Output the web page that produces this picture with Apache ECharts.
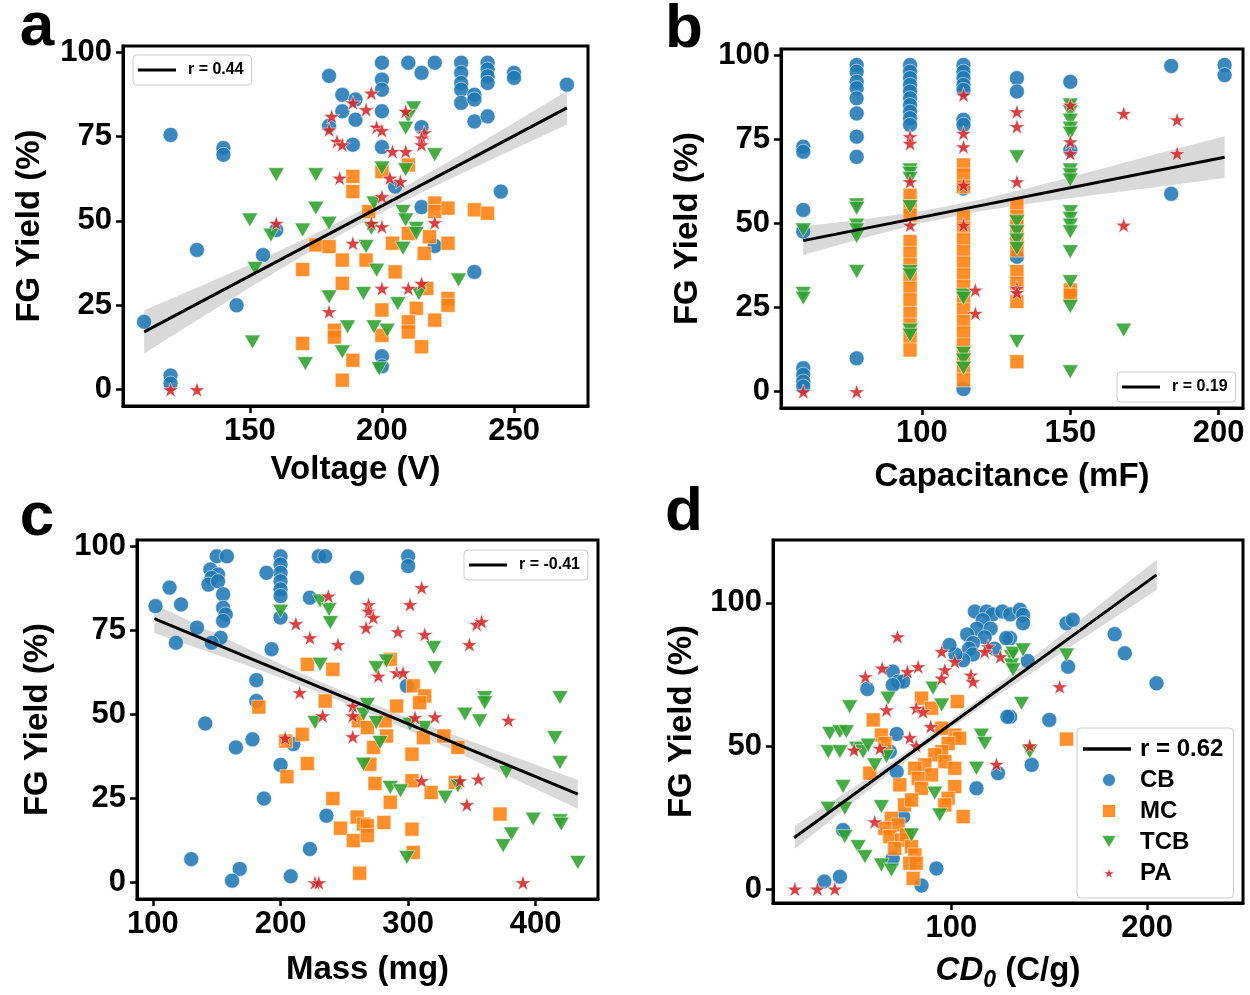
<!DOCTYPE html>
<html lang="en">
<head>
<meta charset="utf-8">
<title>FG yield</title>
<style>
  html, body { margin: 0; padding: 0; background: #fff; }
  #main { width: 1250px; height: 995px; }
</style>
</head>
<body>
<div id="main"></div>
<script src="https://cdn.jsdelivr.net/npm/echarts@6/dist/echarts.min.js"></script>
<script>
// ---------- data ----------
var groups = ['CB', 'MC', 'TCB', 'PA'];

// a: Voltage (V)
var aCB = [[180,93],[185,87.4],[185,82.5],[190,80],[190,86],[180,78.2],[189,72.6],[120,75.5],[140,71.6],[140,69.6],[130,41.4],[155,39.9],[160,47.3],[145,25],[110,20.1],[120,4.2],[120,1.8],[200,96.9],[210,96.9],[215,93.9],[220,96.9],[230,96.9],[230,93.9],[230,90.9],[230,88.9],[230,85],[235,87.4],[235,86],[235,79.5],[240,96.9],[240,94.9],[240,92.9],[240,90.9],[240,81],[250,93.9],[250,92.4],[270,90.4],[200,91.9],[200,88.9],[200,82.5],[200,71.9],[215,77.8],[205,60.2],[245,58.7],[215,54.1],[220,42.6],[235,34.9],[200,9.9],[200,6.9]];
var aMC = [[189,63.2],[189,58.7],[175,42.9],[180,42.4],[185,38.4],[170,35.6],[185,31.5],[182,17.6],[182,15.6],[170,13.7],[189,8.7],[185,2.8],[200,64.6],[210,66.6],[220,55.3],[220,52.8],[225,53.8],[235,53.3],[240,52.3],[195,52.8],[210,46.3],[204,43.4],[218,45.3],[225,43.4],[216,40.4],[194,38.4],[205,34.9],[217,30],[225,27],[225,25],[200,23.6],[213,24.1],[210,20.1],[210,17.1],[220,20.6],[200,16.1],[215,12.7]];
var aTCB = [[160,63.7],[175,63.7],[175,53.8],[150,50.3],[170,47.3],[180,49.3],[158,45.8],[152,35.9],[180,27.5],[187,18.6],[151,14.1],[185,11.2],[171,7.7],[212,83.5],[210,81],[209,77.5],[220,69.6],[200,65.7],[209,65.2],[197,55.3],[208,52.8],[209,50.3],[213,47.8],[213,46.3],[196,47.8],[194,42.4],[208,41.9],[198,35.4],[229,32.5],[193,28.5],[206,25.5],[214,28.5],[197,18.6],[202,17.6],[199,6.2]];
var aPA = [[189,85],[181,81],[180,77],[183,73.6],[185,72.6],[184,62.7],[160,49.3],[189,43.4],[180,23.1],[120,0],[130,0],[196,87.9],[194,83],[198,77.8],[200,76.8],[209,82.5],[216,76.1],[215,74.6],[215,72.6],[204,70.6],[209,70.6],[203,62.7],[207,61.7],[200,57.2],[196,49.3],[200,48.3],[220,49.5],[200,30],[210,30],[215,31.5]];
var aFit = [[110,17.1],[270,83.5]];
var aBandX = [110,130,150,170,190,210,230,250,270];
var aBandLo = [10.7,20.6,30.3,39.6,48.4,56.5,64.0,71.3,78.5];
var aBandHi = [23.5,30.2,37.1,44.4,52.2,60.7,69.8,79.1,88.5];

// b: Capacitance (mF)
var bCB = [[60,72.8],[60,71.3],[60,54],[60,47.6],[60,7],[60,5],[60,3],[60,1.5],[78,97.1],[78,95.1],[78,92.1],[78,90.2],[78,87.2],[78,82.7],[78,75.8],[78,69.8],[78,9.9],[96,97.1],[96,95.1],[96,93.2],[96,91.2],[96,89.2],[96,87.2],[96,85.2],[96,83.2],[96,81.3],[96,79.3],[114,97.1],[114,95.1],[114,93.2],[114,91.2],[114,89.7],[114,80.8],[114,79.3],[114,60.4],[114,0.8],[132,93.2],[132,89.2],[132,40.1],[150,92.1],[150,71.8],[184,96.8],[184,58.8],[202,97.1],[202,94.1]];
var bMC = [[96,58.4],[96,55],[96,52.5],[96,44.6],[96,41.1],[96,37.7],[96,34.2],[96,30.7],[96,27.3],[96,23.3],[96,19.8],[96,16.4],[96,12.4],[114,67.4],[114,64.4],[114,60.9],[114,52],[114,48.6],[114,45.1],[114,41.6],[114,38.2],[114,34.7],[114,31.2],[114,27.8],[114,24.3],[114,20.8],[114,17.4],[114,13.9],[114,10.4],[114,7],[114,3.5],[132,55.5],[132,52],[132,49.1],[132,44.6],[132,42.1],[132,35.7],[132,32.2],[132,26.8],[132,8.9],[150,30.2],[150,28.7]];
var bTCB = [[60,48.1],[60,29.2],[60,27.8],[78,55.5],[78,54.5],[78,49.5],[78,48.1],[78,46.1],[78,35.7],[96,65.9],[96,64.9],[96,63.4],[96,55],[96,35.7],[96,34.7],[96,18.3],[96,16.8],[114,28.7],[114,27.8],[114,11.4],[114,9.4],[114,7],[132,69.8],[132,50.5],[132,47.5],[132,45.1],[132,42.6],[132,14.9],[150,85.2],[150,83.2],[150,80.7],[150,78.3],[150,76.8],[150,65.9],[150,64.4],[150,62.9],[150,53.5],[150,51.5],[150,49.5],[150,47.5],[150,41.6],[150,32.7],[150,25.3],[150,5.9],[168,18.3]];
var bPA = [[60,0],[78,0],[96,75.8],[96,73.8],[96,62.4],[96,49.5],[114,88.2],[114,76.8],[114,72.8],[114,61.4],[114,49.5],[118,30.2],[118,23.3],[132,83.2],[132,78.8],[132,62.4],[132,30.7],[132,29.5],[150,85.2],[150,74.3],[150,70.8],[168,82.7],[168,49.5],[186,80.8],[186,70.8]];
var bFit = [[60,44.9],[202,69.7]];
var bBandX = [60,80,100,120,140,160,180,202];
var bBandLo = [40.6,45.6,50.1,53.7,56.4,58.7,60.9,63.5];
var bBandHi = [49.2,51.2,53.7,57.1,61.4,66.1,70.9,75.9];

// c: Mass (mg)
var cCB = [[150,97],[158,97],[145,93.1],[151,91.6],[146,90.6],[143.5,88.6],[151,89.6],[155,85.7],[155,81.7],[157,79.7],[155,77.8],[153,72.8],[146,71.3],[134.5,75.8],[113,87.7],[102,82.2],[122,82.7],[118,71.3],[200,97],[200,94.6],[200,92.1],[200,89.6],[200,87.2],[200,85.2],[200,78.8],[189,92.1],[223,84.7],[230,97],[235,97],[260,90.6],[193,69.4],[181,60.2],[181,54],[141,47.3],[178,42.6],[165,40.2],[210,41.2],[200,35],[187,25],[236,19.9],[223,10],[130,7],[168,4.1],[162,0.6],[208,1.9],[300,97],[300,94.1],[299,58.5]];
var cMC = [[221,64.9],[241,63.4],[235,54],[183,52.2],[217,44.1],[204,42.1],[221,35.4],[205,31.5],[241,25],[260,19.5],[247,16.2],[265,17.4],[257,12.5],[262,2.8],[261,48.1],[286,66.4],[304,58.5],[313,55.5],[291,52.5],[309,53.5],[282,48.1],[268,46.1],[283,43.6],[328,43.6],[339,40.2],[312,43.1],[273,40.2],[303,38.2],[270,35.2],[274,29.5],[303,30.3],[318,26.8],[286,23.9],[337,29.8],[372,20.4],[281,17.9],[268,16.9],[268,14],[303,15.9],[304,9]];
var cTCB = [[200,80.7],[231,83.7],[238,81.2],[239,77.3],[231,64.9],[227,47.6],[265,50.1],[268,53],[265,35.2],[320,69.9],[321,63.9],[283,65.9],[275,63.9],[275,47.6],[278,41.7],[301.5,47.1],[313,46.1],[344.5,50.1],[356,48.1],[360,55],[360,53.5],[419,55],[415,43.1],[419,35.7],[377,32.8],[286,28.3],[294,27.3],[329,25.4],[339,28.8],[398,18.9],[419,18.4],[420,17.4],[381,14.5],[374.5,11],[299,7.5],[433,6]];
var cPA = [[237.5,85.2],[269,82.7],[269,80.7],[212,77],[223,72.8],[245,70.8],[267,75.8],[215,56.5],[233,49.6],[256.6,52.5],[256.6,49.6],[256.6,43.4],[203.6,43],[227,0],[230,0],[310.6,87.7],[301.5,82.7],[272.7,78.8],[292,74.6],[313,73.8],[353.7,76.8],[357.6,77.6],[348,70.8],[276.7,61.4],[291,62.4],[296,62.4],[305.4,49.1],[321,49.3],[378.5,48.3],[310.6,30.3],[340.6,30.3],[355,30.8],[346,23.2],[390,0]];
var cFit = [[101,78.5],[433,26.3]];
var cBandX = [101,140,180,220,260,300,340,380,433];
var cBandLo = [74.2,69.1,63.7,58.0,51.9,45.4,38.5,31.4,22.0];
var cBandHi = [82.8,75.7,68.5,61.6,55.1,49.0,43.3,37.8,30.6];

// d: CD0 (C/g)
var dCB = [[112,97],[118,97],[121,96],[126,97],[130,96],[116,94],[113,91],[108,89],[120,91],[117,88],[111,86],[109,84],[122,84],[111,82],[106,80],[102,82],[135,97.6],[136.6,95.8],[136.6,92.9],[130,87.7],[158.8,92.9],[162,94.1],[183.4,89.1],[188.6,82.4],[159.6,77.7],[139,79.7],[204.8,71.9],[130,60.2],[150,59.1],[141,43.4],[99,85.3],[128,87.7],[70,76],[72.7,72.5],[75.3,72.5],[70,71.3],[57,69.9],[128.6,60.2],[72,54.2],[68.5,48],[72,41],[112.8,35.2],[123.8,40.5],[75.3,25.3],[44.6,20.6],[70,10.7],[92.3,7.2],[35,2.6],[43,4.3],[84.7,1.2]];
var dMC = [[84.7,66.7],[103,65.5],[89.8,63.2],[60,59.1],[64.2,53.8],[66,50.9],[101.7,53.8],[104.2,52.7],[98.3,50.9],[95,56.2],[95,48],[91.5,46.9],[96.6,44.5],[86.4,43.4],[89.8,39.9],[58.3,40.5],[101.7,42.2],[81.3,42.2],[83,38.7],[73.6,36.4],[84.7,35.2],[101.7,35.8],[98.3,31.7],[96.6,29.4],[76,29.4],[79.6,31.1],[106,25.3],[69.3,24.7],[72.7,22.4],[66,21.2],[68.5,18.3],[74.5,17.1],[71,14.2],[77,18.9],[79.6,14.8],[81.3,11.9],[78.7,9],[82,9],[80.4,3.7],[158.8,52.4]];
var dTCB = [[48,63.7],[67.6,66.7],[90.6,70.2],[95,64.3],[37.8,54.4],[43,55],[46.3,55],[37,48],[43,48],[51.5,49.2],[54.8,48],[57.4,50.3],[66.8,46.3],[60.8,43.4],[115.3,53.8],[117,50.9],[112.8,42.2],[44.6,35.8],[37,28.2],[45.5,28.2],[64.2,28.8],[91.5,33.5],[94,25.9],[79.6,18.9],[45.5,18.3],[52.3,14.8],[55.8,11.3],[64.2,8.4],[69.3,6.6],[130.7,81.2],[130.7,78.3],[131.5,82.4],[136.6,83.6],[131.5,76.6],[158.8,81.8],[135.8,64.9],[140,48]];
var dPA = [[72.4,88.2],[56,74.2],[64.6,77.2],[77.5,76],[83,77.7],[95,83],[101.7,79.5],[96.6,76.6],[95,73.7],[110,74.8],[111,72.5],[118.7,84.7],[117,83],[125,81.2],[66.8,62.6],[82,63.2],[85.5,62],[89.4,56.8],[78.7,52.9],[50.2,48.6],[63.4,49.2],[82,50.1],[123,43.6],[60.8,23.5],[20,0],[31.5,0],[40.4,0],[155.3,70.7],[140,50.1]];
var dFit = [[19.6,17.9],[204.8,109.8]];
var dBandX = [20,40,60,80,100,120,140,160,180,205];
var dBandLo = [14.1,25.0,35.8,46.4,56.4,65.9,75.1,84.3,93.3,104.6];
var dBandHi = [22.1,31.0,40.0,49.4,59.2,69.5,80.1,90.9,101.7,115.2];

var rLabels = ['r = 0.44', 'r = 0.19', 'r = -0.41', 'r = 0.62'];
var xTitles = ['Voltage (V)', 'Capacitance (mF)', 'Mass (mg)', '{i|CD}{s|0}{n| (C/g)}'];
var xTicks = [[150, 200, 250], [100, 150, 200], [100, 200, 300, 400], [100, 200]];
var yTicks = [[0, 25, 50, 75, 100], [0, 25, 50, 75, 100], [0, 25, 50, 75, 100], [0, 50, 100]];
var panelLetters = ['a', 'b', 'c', 'd'];

// ---------- look ----------
var FONT = '"Liberation Sans", Arial, sans-serif';
var COLORS = { CB: '#1f77b4', MC: '#ff7f0e', TCB: '#2ca02c', PA: '#d62728' };
var STAR = 'path://M50,0L61.23,34.55L97.55,34.55L68.17,55.9L79.39,90.45L50,69.1L20.61,90.45L31.83,55.9L2.45,34.55L38.77,34.55Z';
var TRI = 'path://M0,0L100,0L50,87Z';
var SQUARE = 'path://M0,0H10V10H0Z';
var MARK = { CB: 'circle', MC: 'rect', TCB: TRI, PA: STAR };
var SIZE = { CB: 15, MC: 14, TCB: 16, PA: 16 };
var LEGEND_ICON = { CB: 'circle', MC: SQUARE, TCB: TRI, PA: STAR };

var grids = [
    { left: 123, top: 46, width: 465, height: 360 },
    { left: 781, top: 49, width: 462, height: 359 },
    { left: 137, top: 540, width: 461, height: 359 },
    { left: 773, top: 540, width: 470, height: 363 }
];
var xRange = [[102, 278], [52.5, 208.2], [87.5, 448.8], [8.8, 249]];
var yRange = [[-4.85, 101.85], [-4.85, 101.85], [-4.85, 101.85], [-4.9, 122]];
var xGap = [47, 52, 54, 46];
var yGap = [77, 77, 83, 75];

var panels = [
    { CB: aCB, MC: aMC, TCB: aTCB, PA: aPA, fit: aFit, bx: aBandX, lo: aBandLo, hi: aBandHi },
    { CB: bCB, MC: bMC, TCB: bTCB, PA: bPA, fit: bFit, bx: bBandX, lo: bBandLo, hi: bBandHi },
    { CB: cCB, MC: cMC, TCB: cTCB, PA: cPA, fit: cFit, bx: cBandX, lo: cBandLo, hi: cBandHi },
    { CB: dCB, MC: dMC, TCB: dTCB, PA: dPA, fit: dFit, bx: dBandX, lo: dBandLo, hi: dBandHi }
];

var myChart = echarts.init(document.getElementById('main'));

var labelStyle = { fontSize: 31, fontWeight: 'bold', color: '#000', fontFamily: FONT };
var titleStyle = { fontSize: 33, fontWeight: 'bold', color: '#000', fontFamily: FONT };

var xAxes = [], yAxes = [], series = [];

panels.forEach(function (p, gi) {
    var nameStyle = Object.assign({}, titleStyle);
    if (gi === 3) {
        nameStyle.rich = {
            i: { fontSize: 33, fontWeight: 'bold', fontStyle: 'italic', fontFamily: FONT, color: '#000' },
            s: { fontSize: 23, fontWeight: 'bold', fontStyle: 'italic', fontFamily: FONT, color: '#000', padding: [20, 0, 0, 0] },
            n: { fontSize: 33, fontWeight: 'bold', fontFamily: FONT, color: '#000' }
        };
    }
    xAxes.push({
        type: 'value', gridIndex: gi, min: xRange[gi][0], max: xRange[gi][1],
        name: xTitles[gi], nameLocation: 'middle', nameGap: xGap[gi], nameTextStyle: nameStyle,
        splitLine: { show: false },
        axisLine: { show: true, onZero: false, lineStyle: { color: '#000', width: 3 } },
        axisTick: { show: true, length: 7, customValues: xTicks[gi], lineStyle: { color: '#000', width: 2.5 } },
        axisLabel: Object.assign({ customValues: xTicks[gi], margin: 10 }, labelStyle)
    });
    yAxes.push({
        type: 'value', gridIndex: gi, min: yRange[gi][0], max: yRange[gi][1],
        name: 'FG Yield (%)', nameLocation: 'middle', nameGap: yGap[gi], nameTextStyle: titleStyle,
        splitLine: { show: false },
        axisLine: { show: true, onZero: false, lineStyle: { color: '#000', width: 3 } },
        axisTick: { show: true, length: 7, customValues: yTicks[gi], lineStyle: { color: '#000', width: 2.5 } },
        axisLabel: Object.assign({ customValues: yTicks[gi], margin: 11 }, labelStyle)
    });

    // confidence band
    series.push({
        type: 'custom', xAxisIndex: gi, yAxisIndex: gi, silent: true, z: 1,
        data: p.bx.map(function (x, i) { return [x, p.lo[i], p.hi[i]]; }),
        encode: { x: 0, y: [1, 2] },
        renderItem: function (params, api) {
            if (params.dataIndex !== 0) return;
            var pts = [];
            for (var i = 0; i < p.bx.length; i++) pts.push(api.coord([p.bx[i], p.hi[i]]));
            for (var j = p.bx.length - 1; j >= 0; j--) pts.push(api.coord([p.bx[j], p.lo[j]]));
            return { type: 'polygon', shape: { points: pts }, style: { fill: 'rgba(0,0,0,0.15)' } };
        }
    });

    groups.forEach(function (g) {
        series.push({
            type: 'scatter', name: g, xAxisIndex: gi, yAxisIndex: gi, z: 2,
            data: p[g], symbol: MARK[g], symbolSize: SIZE[g], symbolKeepAspect: true,
            itemStyle: { color: COLORS[g], opacity: 0.88, borderColor: '#fff', borderWidth: 0.6 },
            emphasis: { disabled: true }
        });
    });

    series.push({
        type: 'line', name: rLabels[gi], xAxisIndex: gi, yAxisIndex: gi, z: 3,
        data: p.fit, symbol: 'none', silent: true, color: '#000',
        lineStyle: { color: '#000', width: 3 }, itemStyle: { color: '#000' }
    });
});

var smallLine = 'path://M0,0H38V3H0ZM45,0';
var legendBase = {
    orient: 'vertical', selectedMode: false, backgroundColor: '#fff',
    borderColor: '#cccccc', borderWidth: 1, borderRadius: 4,
    textStyle: { fontSize: 16, fontWeight: 'bold', color: '#000', fontFamily: FONT }
};
var legends = [
    Object.assign({}, legendBase, { left: 133, top: 55, itemWidth: 45, itemHeight: 12, padding: [7, 8, 7, 5],
        data: [{ name: rLabels[0], icon: smallLine }] }),
    Object.assign({}, legendBase, { left: 1117, top: 372, itemWidth: 45, itemHeight: 12, padding: [7, 8, 7, 5],
        data: [{ name: rLabels[1], icon: smallLine }] }),
    Object.assign({}, legendBase, { left: 464, top: 550, itemWidth: 45, itemHeight: 12, padding: [7, 8, 7, 5],
        data: [{ name: rLabels[2], icon: smallLine }] }),
    Object.assign({}, legendBase, { left: 1077, top: 728, itemWidth: 52, itemHeight: 14, itemGap: 7, padding: [9, 10, 13, 6],
        textStyle: { fontSize: 24, lineHeight: 22, fontWeight: 'bold', color: '#000', fontFamily: FONT },
        data: [{ name: rLabels[3], icon: 'path://M0,0H48V3.5H0ZM52,0' }].concat(groups.map(function (g) {
            return { name: g, icon: LEGEND_ICON[g] };
        })) })
];

var letterPos = [[37, 28], [684, 30], [37, 518], [684, 513]];

var option = {
    animation: false,
    backgroundColor: '#fff',
    textStyle: { fontFamily: FONT },
    grid: grids.map(function (g) {
        return Object.assign({ show: true, borderColor: '#000', borderWidth: 3, backgroundColor: '#fff' }, g);
    }),
    xAxis: xAxes,
    yAxis: yAxes,
    legend: legends,
    graphic: {
        elements: panelLetters.map(function (t, i) {
            return {
                type: 'text', x: letterPos[i][0], y: letterPos[i][1],
                style: { text: t, fontSize: 62, fontWeight: 'bold', fontFamily: FONT, fill: '#000',
                    textAlign: 'center', textVerticalAlign: 'middle' }
            };
        })
    },
    series: series
};

myChart.setOption(option);
</script>
</body>
</html>
